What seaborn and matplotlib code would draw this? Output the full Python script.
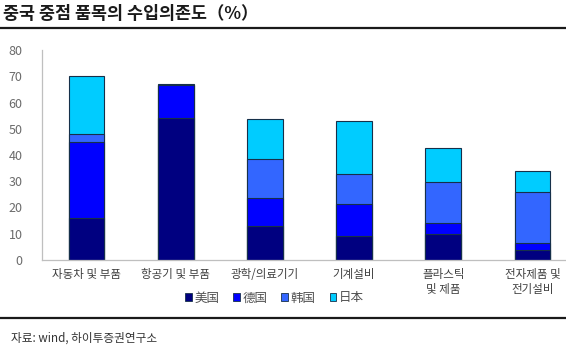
import matplotlib
matplotlib.use("Agg")
import matplotlib.pyplot as plt
from matplotlib.lines import Line2D
from matplotlib.patches import Patch
import numpy as np
import pandas as pd
import seaborn as sns

sns.set_theme(style="white")
plt.rcParams["font.family"] = ["Noto Sans CJK KR", "Noto Sans CJK SC", "DejaVu Sans"]

categories = ["자동차 및 부품", "항공기 및 부품", "광학/의료기기", "기계설비",
              "플라스틱\n및 제품", "전자제품 및\n전기설비"]
series_names = ["美国", "德国", "韩国", "日本"]
us = [16.0, 54.2, 13.1, 9.1, 9.9, 3.9]
germany = [29.0, 12.4, 10.6, 12.1, 4.1, 2.7]
korea = [3.0, 0.2, 14.8, 11.7, 15.8, 19.3]
japan = [22.0, 0.2, 15.2, 20.1, 12.9, 8.1]
yticks = [0, 10, 20, 30, 40, 50, 60, 70, 80]

colors = ["#000080", "#0000FF", "#3366FF", "#00CCFF"]
edge = "#16304a"

values = np.array([us, germany, korea, japan])
cum = np.cumsum(values, axis=0)

fig = plt.figure(figsize=(5.66, 3.48), dpi=100)
ax = fig.add_axes([42 / 566, 1 - 260 / 348, 1 - 42 / 566, 210 / 348])

# stacked bars: draw cumulative totals from the top layer down
for i in range(len(series_names) - 1, -1, -1):
    df = pd.DataFrame({"cat": categories, "val": cum[i]})
    sns.barplot(data=df, x="cat", y="val", order=categories, color=colors[i],
                saturation=1, width=0.40, edgecolor=edge, linewidth=0.8, ax=ax)

ax.set_ylim(0, 80)
ax.set_yticks(yticks)
ax.set_xlim(-0.5, 5.377)
ax.set_xlabel("")
ax.set_ylabel("")
for s in ["top", "right"]:
    ax.spines[s].set_visible(False)
for s in ["left", "bottom"]:
    ax.spines[s].set_color("#bfbfbf")
    ax.spines[s].set_linewidth(0.9)
ax.tick_params(axis="y", direction="in", length=3, color="#bfbfbf", pad=14,
               labelsize=9, labelcolor="#6b6b6b")
ax.tick_params(axis="x", length=0, pad=6, labelsize=8.3, labelcolor="#404040")
ax.grid(False)

handles = [Patch(facecolor=c, edgecolor=edge, linewidth=0.6) for c in colors]
fig.legend(handles, series_names, loc="center", bbox_to_anchor=(0.485, 1 - 298 / 348),
           ncol=4, frameon=False, fontsize=9, handlelength=0.55, handleheight=0.55,
           handletextpad=0.2, columnspacing=1.1, labelcolor="#505050")

fig.text(0.006, 1 - 14 / 348, "중국 중점 품목의 수입의존도（%）", fontsize=12.5,
         fontweight="bold", color="#1a1a1a", va="center", ha="left")
fig.add_artist(Line2D([0.0, 1.0], [1 - 28 / 348] * 2, color="#1a1a1a", lw=1.6))
fig.add_artist(Line2D([0.0, 1.0], [1 - 318 / 348] * 2, color="#1a1a1a", lw=1.6))
fig.text(0.02, 1 - 338 / 348, "자료: wind, 하이투증권연구소", fontsize=8.4,
         color="#333333", va="center", ha="left")

fig.savefig("out.png", dpi=100)
